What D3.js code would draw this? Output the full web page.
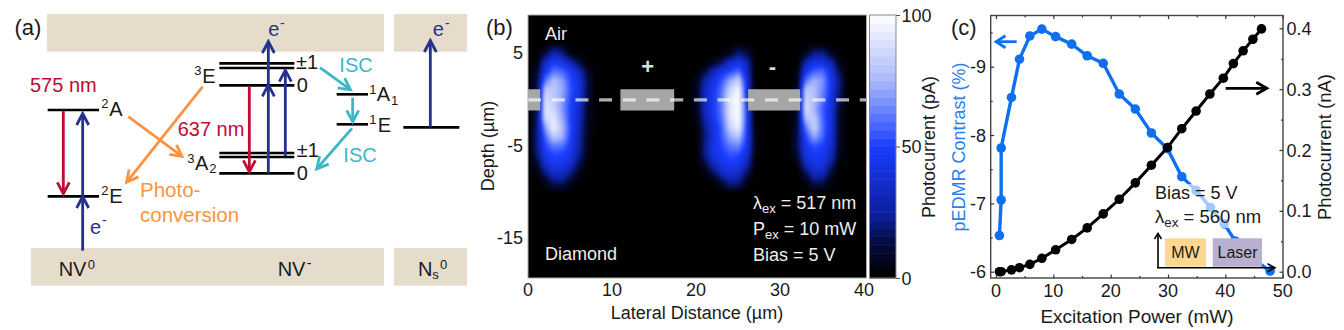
<!DOCTYPE html>
<html>
<head>
<meta charset="utf-8">
<script src="https://cdnjs.cloudflare.com/ajax/libs/d3/7.8.5/d3.min.js"></script>
<style>
    html, body { margin: 0; padding: 0; background: #fff; }
    svg { display: block; }
    text { font-family: "Liberation Sans", Arial, sans-serif; fill: #1a1a1a; }
</style>
</head>
<body>
<script>
// ---- panel (c) data
const power = [0.6, 0.9, 0.9, 2.7, 4.1, 5.9, 8.0, 10.4, 13.2, 15.9, 18.7, 21.5, 24.3, 27.1, 29.9, 32.4, 34.9, 37.4, 39.8, 41.7, 44.3, 47.8];
const contrast = [-6.53, -7.05, -7.81, -8.55, -9.11, -9.45, -9.55, -9.44, -9.33, -9.16, -9.05, -8.60, -8.38, -8.03, -7.80, -7.39, -7.19, -6.94, -6.70, -6.45, -6.22, -6.01];
const currentPower = [0.6, 0.9, 2.7, 4.1, 5.9, 8.0, 10.4, 13.2, 15.9, 18.7, 21.5, 24.3, 27.1, 29.9, 32.4, 34.9, 37.3, 39.65, 41.4, 43.1, 44.8, 46.3];
const photocurrent = [0, 0, 0.003, 0.0066, 0.012, 0.022, 0.036, 0.053, 0.072, 0.095, 0.119, 0.146, 0.175, 0.204, 0.235, 0.264, 0.292, 0.318, 0.342, 0.363, 0.382, 0.399];

// ---- panel (b) data, pA, one row per depth
const heatLat = [0, 1, 2, 3, 4, 5, 6, 7, 8, 19, 20, 21, 22, 23, 24, 25, 26, 27, 28, 31, 32, 33, 34, 35, 36, 37, 38, 39];
const heatDepth = [6, 5, 4, 3, 2, 1, 0, -1, -2, -3, -4, -5, -6, -7, -8, -9, -10];
const heat = [
    [0, 0, 0, 5, 3, 0, 0, 0, 0,   0, 0, 0, 0, 0, 2, 3, 1, 0, 0,   0, 0, 0, 2, 2, 0, 0, 0, 0],
    [0, 0, 12, 30, 22, 3, 0, 0, 0,   0, 0, 0, 0, 0, 5, 20, 12, 0, 0,   0, 0, 6, 22, 22, 6, 0, 0, 0],
    [0, 3, 35, 48, 45, 30, 12, 0, 0,   0, 0, 0, 5, 18, 36, 44, 30, 0, 0,   0, 0, 28, 42, 42, 30, 6, 0, 0],
    [0, 8, 45, 62, 58, 50, 35, 10, 0,   0, 1, 12, 32, 45, 52, 60, 35, 0, 0,   0, 3, 45, 58, 60, 42, 14, 0, 0],
    [0, 12, 62, 78, 70, 52, 42, 14, 0,   0, 5, 28, 42, 55, 72, 85, 40, 0, 0,   0, 4, 62, 74, 68, 46, 22, 1, 0],
    [0, 14, 82, 80, 72, 54, 42, 14, 0,   0, 6, 32, 46, 60, 85, 98, 42, 0, 0,   0, 6, 82, 78, 65, 46, 20, 0, 0],
    [0, 12, 88, 82, 70, 52, 40, 12, 0,   0, 6, 34, 48, 62, 92, 100, 45, 0, 0,   0, 6, 86, 78, 62, 44, 16, 0, 0],
    [0, 12, 92, 85, 68, 50, 36, 8, 0,   0, 5, 32, 48, 62, 92, 100, 50, 0, 0,   0, 8, 90, 74, 56, 42, 10, 0, 0],
    [0, 18, 88, 92, 72, 50, 34, 8, 0,   0, 4, 28, 46, 60, 90, 100, 50, 0, 0,   0, 10, 80, 82, 58, 42, 8, 0, 0],
    [0, 20, 70, 96, 78, 52, 32, 8, 0,   0, 1, 22, 42, 56, 84, 96, 48, 3, 0,   0, 12, 62, 85, 60, 42, 8, 0, 0],
    [0, 22, 58, 82, 75, 50, 30, 6, 0,   0, 1, 18, 40, 55, 72, 80, 48, 6, 0,   0, 14, 50, 72, 58, 40, 8, 0, 0],
    [0, 22, 52, 62, 60, 48, 28, 5, 0,   0, 1, 22, 44, 52, 62, 65, 45, 5, 0,   0, 16, 46, 54, 50, 38, 8, 0, 0],
    [0, 18, 46, 52, 50, 44, 25, 4, 0,   0, 0, 22, 42, 48, 54, 52, 38, 4, 0,   0, 10, 42, 48, 46, 34, 6, 0, 0],
    [0, 8, 36, 46, 46, 36, 15, 1, 0,   0, 0, 10, 32, 44, 48, 46, 30, 0, 0,   0, 3, 32, 44, 42, 24, 2, 0, 0],
    [0, 2, 20, 34, 34, 22, 5, 0, 0,   0, 0, 2, 14, 32, 40, 34, 16, 0, 0,   0, 0, 14, 34, 32, 10, 0, 0, 0],
    [0, 0, 5, 18, 18, 6, 0, 0, 0,   0, 0, 0, 0, 10, 24, 22, 4, 0, 0,   0, 0, 3, 16, 14, 2, 0, 0, 0],
    [0, 0, 0, 3, 3, 0, 0, 0, 0,   0, 0, 0, 0, 0, 3, 3, 0, 0, 0,   0, 0, 0, 2, 2, 0, 0, 0, 0]
];
const cbarTicks = [0, 50, 100];
const contactRanges = [[0, 1.45], [11, 17.4], [26.2, 32.4]];

// ---- panel (a) levels and arrows, in schematic units
const levels = [
    [143, 297, 330], [143, 297, 589],
    [658, 883, 190], [658, 883, 204], [658, 883, 256],
    [658, 883, 459], [658, 883, 471], [658, 883, 520],
    [1010, 1104, 283], [1010, 1104, 373], [1210, 1378, 382]
];
const bands = [[141, 1152, 42, 155], [1182, 1401, 42, 155], [93, 1152, 744, 857], [1182, 1401, 744, 857]];
const arrows = [
    [190, 332, 190, 586, 'red'], [748, 258, 748, 520, 'red'],
    [248, 752, 248, 585, 'blue'], [248, 590, 248, 336, 'blue'],
    [805, 520, 805, 250, 'blue'], [805, 255, 805, 120, 'blue'],
    [856, 468, 856, 206, 'blue'], [1291, 382, 1291, 117, 'blue'],
    [385, 350, 550, 472, 'orange'], [608, 260, 377, 550, 'orange'],
    [960, 203, 1055, 272, 'cyan'], [1058, 293, 1058, 370, 'cyan'], [1056, 385, 947, 510, 'cyan']
];
const colors = { red: '#c20a35', blue: '#25318f', orange: '#fd9340', cyan: '#3cb7c6' };
// text, x, baseline, size, colour
const labels = [
    ['575 nm', 90, 275, 20, colors.red], ['637 nm', 533, 407, 20, colors.red],
    ['2', 304, 325, 13], ['A', 328, 347, 20], ['2', 304, 586, 13], ['E', 328, 608, 20],
    ['3', 583, 226, 13], ['E', 607, 248, 20], ['3', 562, 488, 13], ['A', 585, 510, 20], ['2', 628, 520, 13],
    ['±1', 888, 208, 20], ['0', 890, 275, 20], ['±1', 890, 472, 20], ['0', 890, 540, 20],
    ['1', 1108, 281, 13], ['A', 1130, 303, 20], ['1', 1173, 315, 13], ['1', 1108, 373, 13], ['E', 1133, 395, 20],
    ['ISC', 1018, 215, 20, colors.cyan], ['ISC', 1030, 486, 20, colors.cyan],
    ['Photo-', 420, 590, 20.5, colors.orange], ['conversion', 420, 665, 20.5, colors.orange],
    ['e', 270, 703, 20, colors.blue], ['-', 306, 675, 14, colors.blue],
    ['e', 805, 108, 20, colors.blue], ['-', 840, 85, 14, colors.blue],
    ['e', 1298, 108, 20, colors.blue], ['-', 1335, 85, 14, colors.blue],
    ['NV', 176, 828, 20], ['0', 263, 808, 13], ['NV', 833, 828, 20], ['-', 920, 805, 14],
    ['N', 1254, 828, 20], ['s', 1297, 838, 13], ['0', 1320, 808, 13]
];

const svg = d3.select('body').append('svg')
    .attr('width', 1344)
    .attr('height', 330);

function addText(x, y, str, size, anchor, color) {
    return svg.append('text')
        .attr('x', x).attr('y', y)
        .attr('font-size', size)
        .attr('text-anchor', anchor || 'start')
        .style('fill', color || '#1a1a1a')
        .text(str);
}

function addVertical(x, y, str, size, color) {
    return svg.append('text')
        .attr('transform', `translate(${x},${y}) rotate(-90)`)
        .attr('font-size', size)
        .attr('text-anchor', 'middle')
        .style('fill', color || '#1a1a1a')
        .text(str);
}

// text with a subscript in it, used for lambda_ex and P_ex
function addSub(x, y, a, sub, b, size, color) {
    const t = addText(x, y, '', size, 'start', color);
    t.append('tspan').text(a);
    t.append('tspan').attr('font-size', size * 0.72).attr('dy', 4).text(sub);
    t.append('tspan').attr('dy', -4).text(b);
    return t;
}

// open arrow head at the end of a line
function arrow(g, x1, y1, x2, y2, color, width, headLen, headHalf) {
    const a = Math.atan2(y2 - y1, x2 - x1);
    const back = (len, side) => [
        x2 - len * Math.cos(a) - side * Math.sin(a),
        y2 - len * Math.sin(a) + side * Math.cos(a)
    ];
    const line = d3.line();
    g.append('path')
        .attr('d', line([[x1, y1], back(2, 0)]))
        .attr('fill', 'none').attr('stroke', color).attr('stroke-width', width);
    g.append('path')
        .attr('d', line([back(headLen, headHalf), back(1.5, 0), back(headLen, -headHalf)]))
        .attr('fill', 'none').attr('stroke', color).attr('stroke-width', width);
}

// ---------- panel (a)
const ax = d3.scaleLinear().domain([0, 1440]).range([0, 480]);
const ay = d3.scaleLinear().domain([0, 990]).range([0, 330]);
const panelA = svg.append('g');

panelA.selectAll('rect.band')
    .data(bands)
    .enter()
    .append('rect')
    .attr('class', 'band')
    .attr('x', d => ax(d[0]))
    .attr('y', d => ay(d[2]))
    .attr('width', d => ax(d[1]) - ax(d[0]))
    .attr('height', d => ay(d[3]) - ay(d[2]))
    .attr('fill', '#e6dccb');

panelA.selectAll('line.level')
    .data(levels)
    .enter()
    .append('line')
    .attr('class', 'level')
    .attr('x1', d => ax(d[0]))
    .attr('x2', d => ax(d[1]))
    .attr('y1', d => ay(d[2]))
    .attr('y2', d => ay(d[2]))
    .attr('stroke', '#000')
    .attr('stroke-width', 2.6);

arrows.forEach(d => {
    arrow(panelA, ax(d[0]), ay(d[1]), ax(d[2]), ay(d[3]), colors[d[4]], 2.8, 13, 6);
});

labels.forEach(d => {
    addText(ax(d[1]), ay(d[2]), d[0], d[3], 'start', d[4]);
});
addText(14.5, 35, '(a)', 22);

// ---------- panel (b)
const bx = d3.scaleLinear().domain([0, 40]).range([528, 864]);
const by = d3.scaleLinear().domain([5, -15]).range([52.7, 237.7]);
const frameB = { left: 528, right: 866.5, top: 15, bottom: 278 };
const heatColor = d3.scaleLinear()
    .domain([0, 12, 25, 50, 62, 75, 100])
    .range(['#000000', '#040a38', '#0c20a0', '#1a3cff', '#5f7bff', '#a9b8fb', '#ffffff']);

function heatAt(lat, depth) {
    const c = Math.min(d3.bisectRight(heatLat, lat), heatLat.length - 1);
    const r = Math.min(d3.bisectLeft(heatDepth.map(v => -v), -depth), heatDepth.length - 1);
    if (r === 0 || c === 0) return 0;
    const u = (lat - heatLat[c - 1]) / (heatLat[c] - heatLat[c - 1]);
    const v = (heatDepth[r - 1] - depth) / (heatDepth[r - 1] - heatDepth[r]);
    if (v > 1 || u > 1) return 0;
    const top = heat[r - 1][c - 1] * (1 - u) + heat[r - 1][c] * u;
    const bot = heat[r][c - 1] * (1 - u) + heat[r][c] * u;
    return top * (1 - v) + bot * v;
}

const w = Math.round(frameB.right - frameB.left);
const h = Math.round(frameB.bottom - frameB.top);
const raw = document.createElement('canvas');
raw.width = w;
raw.height = h;
const rawCtx = raw.getContext('2d');
for (let j = 0; j < h; j++) {
    for (let i = 0; i < w; i++) {
        rawCtx.fillStyle = heatColor(heatAt(bx.invert(frameB.left + i), by.invert(frameB.top + j)));
        rawCtx.fillRect(i, j, 1, 1);
    }
}
const soft = document.createElement('canvas');
soft.width = w;
soft.height = h;
const softCtx = soft.getContext('2d');
softCtx.fillStyle = '#000';
softCtx.fillRect(0, 0, w, h);
softCtx.filter = 'blur(1.6px)';
softCtx.drawImage(raw, 0, 0);

svg.append('image')
    .attr('x', frameB.left)
    .attr('y', frameB.top)
    .attr('width', w)
    .attr('height', h)
    .attr('href', soft.toDataURL());

svg.selectAll('rect.contact')
    .data(contactRanges)
    .enter()
    .append('rect')
    .attr('class', 'contact')
    .attr('x', d => bx(d[0]))
    .attr('y', by(1.05))
    .attr('width', d => bx(d[1]) - bx(d[0]))
    .attr('height', by(-1.25) - by(1.05))
    .attr('fill', '#a6a6a6');

svg.append('line')
    .attr('x1', frameB.left)
    .attr('x2', frameB.right)
    .attr('y1', by(-0.1))
    .attr('y2', by(-0.1))
    .attr('stroke', '#fff')
    .attr('stroke-opacity', 0.68)
    .attr('stroke-width', 3.2)
    .attr('stroke-dasharray', '13 10.7');

svg.append('rect')
    .attr('x', frameB.left)
    .attr('y', frameB.top)
    .attr('width', frameB.right - frameB.left)
    .attr('height', frameB.bottom - frameB.top)
    .attr('fill', 'none')
    .attr('stroke', '#aaa')
    .attr('stroke-width', 1);

[0, 10, 20, 30, 40].forEach(d => addText(bx(d), 296, d, 18, 'middle'));
[5, -5, -15].forEach(d => addText(523, by(d) + 6.5, d, 18, 'end'));
addVertical(494, 146, 'Depth (µm)', 18);
addText(697, 319, 'Lateral Distance (µm)', 18, 'middle');
addText(486, 35, '(b)', 22);
addText(545, 40, 'Air', 18, 'start', '#eee');
addText(545, 260, 'Diamond', 18, 'start', '#eee');
addText(647.7, 74, '+', 22, 'middle', '#ddd').attr('font-weight', 'bold');
addText(772.3, 74, '-', 22, 'middle', '#ddd').attr('font-weight', 'bold');
addSub(753, 208.5, 'λ', 'ex', ' = 517 nm', 18, '#eee');
addSub(753, 235, 'P', 'ex', ' = 10 mW', 18, '#eee');
addText(753, 260.5, 'Bias = 5 V', 18, 'start', '#eee');

// colour bar
const cbY = d3.scaleLinear().domain([0, 100]).range([278, 15]);
const cbSteps = d3.range(0, 100, 100 / 32);
svg.selectAll('rect.cb')
    .data(cbSteps)
    .enter()
    .append('rect')
    .attr('class', 'cb')
    .attr('x', 869.5)
    .attr('width', 26.5)
    .attr('y', d => cbY(d + 100 / 32))
    .attr('height', (cbY(0) - cbY(100 / 32)) + 0.5)
    .attr('fill', d => heatColor(d + 50 / 32));
svg.append('rect')
    .attr('x', 869.5).attr('y', 15)
    .attr('width', 26.5).attr('height', 263)
    .attr('fill', 'none').attr('stroke', '#888').attr('stroke-width', 1);
svg.append('g')
    .attr('transform', 'translate(896,0)')
    .call(d3.axisRight(cbY).tickValues(cbarTicks).tickSize(4).tickFormat(''))
    .call(g => g.select('.domain').remove())
    .call(g => g.selectAll('line').attr('stroke', '#555'));
cbarTicks.forEach(d => addText(901.5, cbY(d) + 6.5, d, 18));
addVertical(935, 147, 'Photocurrent (pA)', 18);

// ---------- panel (c)
const cx = d3.scaleLinear().domain([0, 50]).range([996, 1282.7]);
const cyLeft = d3.scaleLinear().domain([-6, -9]).range([271.7, 66.7]);
const cyRight = d3.scaleLinear().domain([0, 0.4]).range([271.7, 28.3]);
const frameC = { left: 990.7, right: 1283, top: 15.5, bottom: 278 };

const blueSeries = power.map((d, i) => [cx(d), cyLeft(contrast[i])]);
const blackSeries = currentPower.map((d, i) => [cx(d), cyRight(photocurrent[i])]);
const lineGen = d3.line();

svg.append('path')
    .attr('d', lineGen(blueSeries))
    .attr('fill', 'none').attr('stroke', '#0f6fef').attr('stroke-width', 3.4);
svg.selectAll('circle.blue')
    .data(blueSeries)
    .enter()
    .append('circle')
    .attr('class', 'blue')
    .attr('cx', d => d[0]).attr('cy', d => d[1]).attr('r', 4.8)
    .attr('fill', '#0f6fef');

svg.append('path')
    .attr('d', lineGen(blackSeries))
    .attr('fill', 'none').attr('stroke', '#000').attr('stroke-width', 3);
svg.selectAll('circle.black')
    .data(blackSeries)
    .enter()
    .append('circle')
    .attr('class', 'black')
    .attr('cx', d => d[0]).attr('cy', d => d[1]).attr('r', 4.8)
    .attr('fill', '#000');

// inset legend sits over the blue curve
svg.append('rect')
    .attr('x', 1155).attr('y', 184)
    .attr('width', 105).attr('height', 44)
    .attr('fill', '#fff').attr('fill-opacity', 0.62);
svg.append('rect')
    .attr('x', 1165).attr('y', 238.3)
    .attr('width', 41).attr('height', 28.4)
    .attr('fill', '#fcd88f');
svg.append('rect')
    .attr('x', 1212.7).attr('y', 238.3)
    .attr('width', 49.3).attr('height', 28.4)
    .attr('fill', '#b9afd0');
arrow(svg, 1158, 268, 1158, 232, '#000', 1.6, 7, 3.5);
arrow(svg, 1157, 267.7, 1276.5, 267.7, '#000', 1.6, 9, 4);
addText(1185.5, 258, 'MW', 16, 'middle');
addText(1237.5, 258, 'Laser', 16, 'middle');
addText(1155, 199, 'Bias = 5 V', 18);
addSub(1155, 222.5, 'λ', 'ex', ' = 560 nm', 18.5);

// frame and ticks
svg.append('rect')
    .attr('x', frameC.left).attr('y', frameC.top)
    .attr('width', frameC.right - frameC.left).attr('height', frameC.bottom - frameC.top)
    .attr('fill', 'none').attr('stroke', '#444').attr('stroke-width', 1.4);

function ticks(axis, x, y, values, size) {
    svg.append('g')
        .attr('transform', `translate(${x},${y})`)
        .call(axis.tickValues(values).tickSize(size).tickFormat(''))
        .call(g => g.select('.domain').remove())
        .call(g => g.selectAll('line').attr('stroke', '#333').attr('stroke-width', 1.2));
}
const xMajor = [0, 10, 20, 30, 40, 50];
const xMinor = [5, 15, 25, 35, 45];
ticks(d3.axisTop(cx), 0, frameC.bottom, xMajor, 3.5);
ticks(d3.axisTop(cx), 0, frameC.bottom, xMinor, 2);
ticks(d3.axisBottom(cx), 0, frameC.top, xMajor, 3.5);
ticks(d3.axisBottom(cx), 0, frameC.top, xMinor, 2);
ticks(d3.axisRight(cyLeft), frameC.left, 0, [-6, -7, -8, -9], 3.5);
ticks(d3.axisRight(cyLeft), frameC.left, 0, [-6.5, -7.5, -8.5, -9.5], 2);
ticks(d3.axisLeft(cyRight), frameC.right, 0, [0, 0.1, 0.2, 0.3, 0.4], 3.5);
ticks(d3.axisLeft(cyRight), frameC.right, 0, [0.05, 0.15, 0.25, 0.35], 2);

xMajor.forEach(d => addText(cx(d), 296.5, d, 18, 'middle'));
[-6, -7, -8, -9].forEach(d => addText(986, cyLeft(d) + 6.5, d, 18, 'end'));
[0, 0.1, 0.2, 0.3, 0.4].forEach(d => addText(1286.5, cyRight(d) + 6.5, d.toFixed(1), 18));
addVertical(965, 147, 'pEDMR Contrast (%)', 18, '#2a7ff0');
addVertical(1331, 147, 'Photocurrent (nA)', 18.5);
addText(1137, 323, 'Excitation Power (mW)', 19, 'middle');
addText(951, 35, '(c)', 22);

arrow(svg, 1016.7, 41.7, 994.5, 41.7, '#0f6fef', 2.8, 11, 6);
arrow(svg, 1225.7, 88.3, 1268.3, 88.3, '#000', 2.8, 12, 6);
</script>
</body>
</html>
